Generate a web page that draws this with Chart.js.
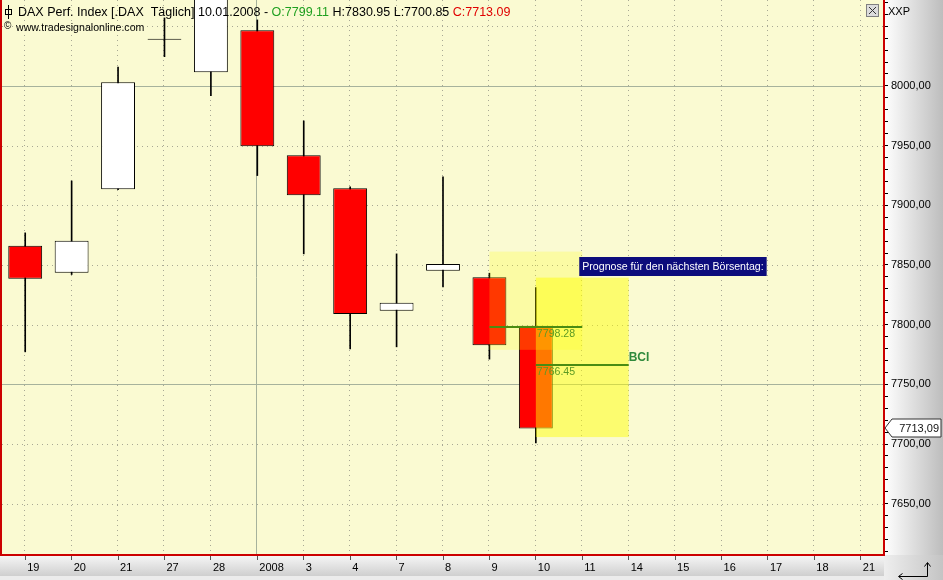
<!DOCTYPE html>
<html>
<head>
<meta charset="utf-8">
<script src="https://cdn.jsdelivr.net/npm/chart.js@4.4.0/dist/chart.umd.min.js"></script>
<style>
  html, body { margin: 0; padding: 0; background: #fff; }
  #wrap { width: 943px; height: 580px; }
</style>
</head>
<body>
<div id="wrap"><canvas id="dax"></canvas></div>
<script>
// daily candles, DAX Perf. Index (Dec 2007 - Jan 2008)
const dates  = ['19', '20', '21', '27', '28', '2008', '3', '4', '7', '8', '9', '10', '11', '14', '15', '16', '17', '18', '21'];
const opens  = [7866.0, 7843.4, 7913.5, 8039.1, 8011.5, 8046.6, 7942.0, 7914.3, 7811.6, 7845.1, 7839.8, 7799.11];
const highs  = [7876.9, 7920.4, 8015.7, 8057.0, 8100.0, 8055.3, 7970.7, 7915.4, 7859.3, 7923.8, 7843.1, 7830.95];
const lows   = [7777.2, 7842.0, 7913.0, 8024.5, 7991.9, 7924.9, 7859.3, 7779.7, 7781.4, 7831.7, 7771.1, 7700.85];
const closes = [7838.4, 7870.2, 8003.1, 8039.1, 8090.0, 7949.5, 7908.5, 7809.0, 7818.3, 7850.9, 7782.8, 7713.09];

// forecast for the next trading day (index into dates)
const fcFrom   = [10, 11];
const fcTo     = [12, 13];
const fcLevel  = [7798.28, 7766.45];
const fcHigh   = [7861.2, 7839.4];
const fcLow    = [7778.9, 7705.8];

const yLabels = [7650, 7700, 7750, 7800, 7850, 7900, 7950, 8000];
const yGrid   = [7650, 7700, 7750, 7800, 7850, 7900, 7950, 8000, 8050];
const ySolid  = [7750, 8000];

const FONT = '"Liberation Sans", Arial, sans-serif';

const minorTicks = [];
for (let v = 7610; v <= 8070; v += 10) minorTicks.push(v);

function fmt(v, sep) {
  return v.toFixed(2).replace('.', sep);
}

const bodies = opens.map((o, i) => {
  const c = closes[i];
  return o === c ? [o - 0.5, o + 0.5] : [o, c];
});
const bodyColors = opens.map((o, i) => closes[i] > o ? '#ffffff' : (closes[i] < o ? '#ff0000' : '#000000'));
const wicks = lows.map((l, i) => [l, highs[i]]);

const backdrop = {
  id: 'backdrop',
  beforeDraw(chart) {
    const ctx = chart.ctx, a = chart.chartArea;
    const W = chart.width, H = chart.height;
    ctx.save();
    ctx.fillStyle = '#ffffff';
    ctx.fillRect(0, 0, W, H);
    ctx.fillStyle = '#fafad2';
    ctx.fillRect(0, 0, a.right, a.bottom);
    // right axis panel
    let g = ctx.createLinearGradient(a.right, 0, W, 0);
    g.addColorStop(0, '#ffffff');
    g.addColorStop(1, '#bdbdbd');
    ctx.fillStyle = g;
    ctx.fillRect(a.right, 0, W - a.right, a.bottom);
    // bottom axis strip
    g = ctx.createLinearGradient(0, a.bottom, 0, H - 4);
    g.addColorStop(0, '#f7f7f7');
    g.addColorStop(1, '#cfcfcf');
    ctx.fillStyle = g;
    ctx.fillRect(0, a.bottom, a.right, H - 4 - a.bottom);
    ctx.fillStyle = '#ececec';
    ctx.fillRect(0, H - 4, a.right, 4);
    // corner
    g = ctx.createLinearGradient(a.right, 0, W, 0);
    g.addColorStop(0, '#eeeeee');
    g.addColorStop(1, '#c4c4c4');
    ctx.fillStyle = g;
    ctx.fillRect(a.right, a.bottom, W - a.right, H - a.bottom);
    ctx.restore();
  },
  beforeDatasetsDraw(chart) {
    const ctx = chart.ctx, a = chart.chartArea;
    const x = chart.scales.x, y = chart.scales.y;
    ctx.save();
    ctx.lineWidth = 1;
    yGrid.forEach(v => {
      const py = Math.round(y.getPixelForValue(v)) + 0.5;
      const solid = ySolid.includes(v);
      ctx.strokeStyle = solid ? '#a6b29c' : '#a8a894';
      ctx.setLineDash(solid ? [] : [1, 4]);
      ctx.beginPath();
      ctx.moveTo(a.left, py);
      ctx.lineTo(a.right, py);
      ctx.stroke();
    });
    dates.forEach((d, i) => {
      const px = Math.round(x.getPixelForValue(i)) - 0.5;
      const solid = d === '2008';
      ctx.strokeStyle = solid ? '#a6b29c' : '#a8a894';
      ctx.setLineDash(solid ? [] : [1, 4]);
      ctx.beginPath();
      ctx.moveTo(px, a.top);
      ctx.lineTo(px, a.bottom);
      ctx.stroke();
    });
    ctx.restore();
  }
};

const forecast = {
  id: 'forecast',
  afterDatasetsDraw(chart) {
    const ctx = chart.ctx, a = chart.chartArea;
    const x = chart.scales.x, y = chart.scales.y;
    ctx.save();
    // forecast ranges
    const fills = ['rgba(255,255,0,0.22)', 'rgba(255,255,0,0.47)'];
    fcFrom.forEach((f, i) => {
      const x0 = x.getPixelForValue(f), x1 = x.getPixelForValue(fcTo[i]);
      const y0 = y.getPixelForValue(fcHigh[i]), y1 = y.getPixelForValue(fcLow[i]);
      ctx.fillStyle = fills[i];
      ctx.fillRect(x0, y0, x1 - x0, y1 - y0);
    });
    // forecast levels
    ctx.strokeStyle = '#4a8c12';
    ctx.lineWidth = 2;
    ctx.font = '10.6px ' + FONT;
    ctx.textBaseline = 'top';
    fcFrom.forEach((f, i) => {
      const x0 = x.getPixelForValue(f), x1 = x.getPixelForValue(fcTo[i]);
      const py = Math.round(y.getPixelForValue(fcLevel[i]));
      ctx.beginPath();
      ctx.moveTo(x0, py);
      ctx.lineTo(x1, py);
      ctx.stroke();
      ctx.fillStyle = '#5c9a24';
      ctx.fillText(fcLevel[i].toFixed(2), x.getPixelForValue(11) + 1, py + 2);
    });
    const bx = x.getPixelForValue(fcTo[1]);
    const by = y.getPixelForValue(fcLevel[1]);
    ctx.fillStyle = '#2f8a3c';
    ctx.font = 'bold 12px ' + FONT;
    ctx.textBaseline = 'bottom';
    ctx.fillText('BCI', bx, by - 1);

    // note box
    const nx = x.getPixelForValue(12) - 3;
    const ny = Math.round(y.getPixelForValue(7857));
    ctx.font = '10.6px ' + FONT;
    const note = 'Prognose für den nächsten Börsentag:';
    const nw = ctx.measureText(note).width + 6;
    ctx.fillStyle = '#0c0c7c';
    ctx.fillRect(nx, ny, nw, 19);
    ctx.fillStyle = '#ffffff';
    ctx.textBaseline = 'middle';
    ctx.fillText(note, nx + 3, ny + 10);

    // frame
    ctx.strokeStyle = '#cc0000';
    ctx.lineWidth = 2;
    ctx.beginPath();
    ctx.moveTo(1, 0);
    ctx.lineTo(1, a.bottom);
    ctx.lineTo(a.right, a.bottom);
    ctx.lineTo(a.right, 0);
    ctx.stroke();

    // last price marker
    const last = closes[closes.length - 1];
    const py = Math.round(y.getPixelForValue(last));
    const mx = a.right + 1;
    ctx.beginPath();
    ctx.moveTo(mx, py);
    ctx.lineTo(mx + 7, py - 9);
    ctx.lineTo(chart.width - 2, py - 9);
    ctx.lineTo(chart.width - 2, py + 9);
    ctx.lineTo(mx + 7, py + 9);
    ctx.closePath();
    ctx.fillStyle = '#ffffff';
    ctx.fill();
    ctx.strokeStyle = '#333333';
    ctx.lineWidth = 1;
    ctx.stroke();
    ctx.fillStyle = '#111111';
    ctx.font = '11px ' + FONT;
    ctx.textAlign = 'right';
    ctx.textBaseline = 'middle';
    ctx.fillText(fmt(last, ','), chart.width - 4, py + 1);
    ctx.restore();
  },
  afterDraw(chart) {
    const ctx = chart.ctx;
    const n = opens.length - 1;
    ctx.save();
    // header
    ctx.strokeStyle = '#000';
    ctx.lineWidth = 1;
    ctx.beginPath();
    ctx.moveTo(8.5, 5); ctx.lineTo(8.5, 19);
    ctx.stroke();
    ctx.strokeRect(5.5, 9.5, 6, 5);
    ctx.font = '12.5px ' + FONT;
    ctx.textBaseline = 'middle';
    let hx = 18;
    const parts = [
      ['DAX Perf. Index [.DAX  Täglich] 10.01.2008 - ', '#000000'],
      ['O:' + opens[n].toFixed(2), '#20a020'],
      [' H:' + highs[n].toFixed(2) + ' L:' + lows[n].toFixed(2) + ' ', '#000000'],
      ['C:' + closes[n].toFixed(2), '#e00000']
    ];
    parts.forEach(p => {
      ctx.fillStyle = p[1];
      ctx.fillText(p[0], hx, 13);
      hx += ctx.measureText(p[0]).width;
    });
    ctx.font = '10.6px ' + FONT;
    ctx.fillStyle = '#000';
    ctx.fillText('www.tradesignalonline.com', 16, 28);
    ctx.font = '10px ' + FONT;
    ctx.fillText('©', 4, 26);

    // top right
    ctx.fillStyle = '#dcdcdc';
    ctx.fillRect(866.5, 4.5, 12, 12);
    ctx.strokeStyle = '#808080';
    ctx.strokeRect(866.5, 4.5, 12, 12);
    ctx.strokeStyle = '#333';
    ctx.beginPath();
    ctx.moveTo(869, 7); ctx.lineTo(876, 14);
    ctx.moveTo(876, 7); ctx.lineTo(869, 14);
    ctx.stroke();
    ctx.fillStyle = '#000';
    ctx.font = '11px ' + FONT;
    ctx.fillText('XXP', 888, 12);

    // corner arrow
    ctx.strokeStyle = '#000';
    ctx.beginPath();
    ctx.moveTo(899, 576.5); ctx.lineTo(927.5, 576.5); ctx.lineTo(927.5, 563);
    ctx.moveTo(924.5, 566.5); ctx.lineTo(927.5, 562.5); ctx.lineTo(930.5, 566.5);
    ctx.moveTo(902.5, 573.5); ctx.lineTo(898.5, 576.5); ctx.lineTo(902.5, 579.5);
    ctx.stroke();
    ctx.restore();
  }
};

new Chart(document.getElementById('dax'), {
  type: 'bar',
  data: {
    labels: dates,
    datasets: [{
      label: 'body',
      data: bodies,
      backgroundColor: bodyColors,
      borderColor: '#000000',
      borderWidth: 1,
      borderSkipped: false,
      grouped: false,
      barPercentage: 0.73,
      categoryPercentage: 1,
      order: 0
    }, {
      label: 'wick',
      data: wicks,
      backgroundColor: '#000000',
      borderWidth: 0,
      grouped: false,
      barThickness: 1,
      order: 1
    }]
  },
  options: {
    responsive: true,
    maintainAspectRatio: false,
    animation: false,
    devicePixelRatio: 1,
    layout: { padding: { left: 2, top: 0, right: 0, bottom: 0 } },
    plugins: { legend: { display: false }, tooltip: { enabled: false } },
    scales: {
      x: {
        type: 'category',
        offset: true,
        afterFit: s => { s.height = 25; s.paddingLeft = 0; s.paddingRight = 0; },
        grid: { offset: false, drawOnChartArea: false, tickLength: 5, tickColor: '#555555' },
        border: { display: false },
        ticks: {
          align: 'start',
          labelOffset: 2,
          padding: 1,
          autoSkip: false,
          maxRotation: 0,
          color: '#000000',
          font: { family: FONT, size: 11 }
        }
      },
      y: {
        position: 'right',
        min: 7607,
        max: 8072,
        afterFit: s => { s.width = 59; s.paddingTop = 0; s.paddingBottom = 0; },
        afterBuildTicks: s => { s.ticks = minorTicks.map(v => ({ value: v })); },
        grid: { drawOnChartArea: false, tickLength: 4, tickColor: '#000000' },
        border: { display: false },
        ticks: {
          autoSkip: false,
          padding: 3,
          color: '#000000',
          font: { family: FONT, size: 11 },
          callback: v => yLabels.includes(v) ? fmt(v, ',') : ''
        }
      }
    }
  },
  plugins: [backdrop, forecast]
});
</script>
</body>
</html>
